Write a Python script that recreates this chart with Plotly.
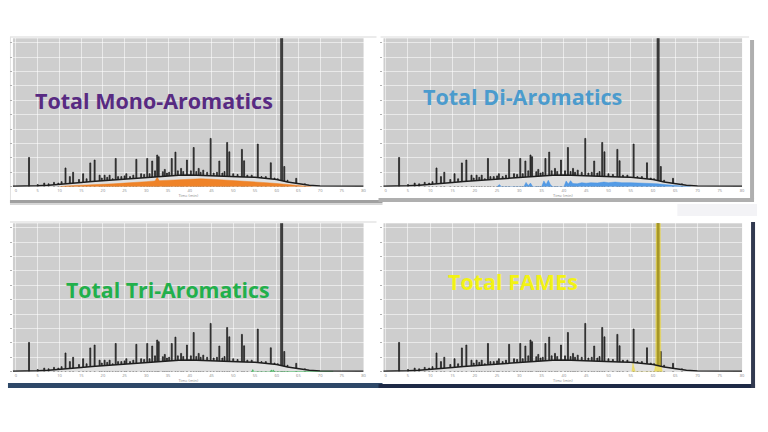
import plotly.graph_objects as go

# ---------------- data ----------------
PEAK_POS = [0.60, 1.00, 1.30, 1.50, 1.75, 1.95, 2.10, 2.28, 2.48, 2.63, 2.90, 3.09, 3.25,
            3.42, 3.62, 3.85, 3.95, 4.08, 4.20, 4.31, 4.45, 4.59, 4.70, 4.85, 5.00, 5.08,
            5.25, 5.40, 5.54, 5.76, 5.90, 6.04, 6.15, 6.27, 6.40, 6.50, 6.57, 6.76, 6.85,
            6.95, 7.05, 7.17, 7.34, 7.45, 7.60, 7.70, 7.87, 8.05, 8.18, 8.30, 8.41, 8.50,
            8.62, 8.80, 8.96, 9.10, 9.25, 9.36, 9.50, 9.60, 9.72, 9.82, 10.00, 10.20, 10.40,
            10.50, 10.65, 10.85, 11.13, 11.30, 11.50, 11.73, 11.90, 12.05, 12.23, 12.35,
            12.50, 12.90, 13.30]
PEAK_HEIGHT = [2.03, 0.15, 0.25, 0.20, 0.30, 0.25, 0.35, 1.30, 0.70, 1.00, 0.50, 0.90, 0.55,
               1.65, 1.85, 0.80, 0.60, 0.80, 0.65, 0.80, 0.55, 1.96, 0.70, 0.70, 0.75, 0.90,
               0.70, 0.80, 1.90, 0.90, 0.85, 1.96, 0.90, 1.78, 1.10, 2.20, 2.08, 1.04, 1.20,
               0.95, 1.00, 1.96, 2.40, 1.10, 1.27, 1.05, 1.85, 1.10, 2.72, 1.05, 1.27, 1.00,
               1.15, 1.00, 3.35, 0.95, 1.00, 1.78, 0.95, 1.05, 3.07, 2.42, 0.90, 0.85, 2.59,
               1.80, 0.80, 0.80, 2.96, 0.70, 0.70, 1.66, 0.60, 0.55, 11.0, 1.40,
               0.45, 0.58, 0.20]

HUMP_X = [-0.2, 0.5, 1.0, 1.5, 2.0, 2.5, 3.0, 3.5, 4.0, 4.5, 5.0, 5.5, 6.0, 6.5, 7.0, 7.5,
          8.0, 8.5, 9.0, 9.5, 10.0, 10.5, 11.0, 11.5, 12.0, 12.5, 13.0, 13.5, 14.0, 14.5,
          15.0, 16.0]
HUMP_Y = [0.03, 0.03, 0.06, 0.10, 0.15, 0.22, 0.30, 0.36, 0.42, 0.48, 0.52, 0.58, 0.64,
          0.72, 0.78, 0.80, 0.82, 0.80, 0.76, 0.74, 0.72, 0.68, 0.65, 0.60, 0.50, 0.32,
          0.20, 0.10, 0.05, 0.04, 0.03, 0.03]

MONO_X = [2.0, 2.3, 3.0, 3.5, 4.0, 4.5, 5.0, 5.5, 6.0, 6.4, 6.5, 6.6, 7.0, 7.3, 7.5, 8.0,
          8.5, 9.0, 9.5, 10.0, 10.5, 11.0, 11.5, 12.0, 12.5, 12.8, 13.2, 13.6]
MONO_Y = [0.0, 0.05, 0.10, 0.12, 0.15, 0.20, 0.25, 0.28, 0.35, 0.40, 0.65, 0.42, 0.45, 0.50,
          0.48, 0.55, 0.55, 0.52, 0.48, 0.42, 0.38, 0.32, 0.28, 0.22, 0.15, 0.10, 0.05, 0.0]

DI_X = [5.0, 5.1, 5.2, 6.2, 6.3, 6.4, 6.5, 6.6, 7.0, 7.1, 7.2, 7.3, 7.4, 7.5, 8.0, 8.1,
        8.2, 8.3, 8.4, 8.6, 8.8, 9.0, 9.2, 9.5, 9.8, 10.0, 10.3, 10.6, 11.0, 11.4, 11.8,
        12.2, 12.6, 13.0, 13.5, 13.7]
DI_Y = [0.0, 0.15, 0.0, 0.0, 0.30, 0.08, 0.25, 0.0, 0.0, 0.40, 0.15, 0.45, 0.12, 0.0, 0.0,
        0.40, 0.18, 0.42, 0.22, 0.20, 0.28, 0.24, 0.28, 0.26, 0.32, 0.28, 0.32, 0.28, 0.28,
        0.26, 0.24, 0.20, 0.14, 0.09, 0.03, 0.0]

TRI_X = [10.85, 10.90, 10.95, 11.70, 11.75, 11.80, 11.85, 11.90, 13.90, 14.60]
TRI_Y = [0.0, 0.15, 0.0, 0.0, 0.12, 0.05, 0.12, 0.0, 0.03, 0.03]

FAME_X = [11.05, 11.10, 11.15, 11.20, 12.06, 12.12, 12.14, 12.33, 12.35, 12.42]
FAME_Y = [0.0, 0.60, 0.30, 0.0, 0.0, 0.50, 11.0, 11.0, 0.50, 0.0]

X_TICKS = list(range(0, 17))
X_TICK_LABELS = [str(5 * i) for i in X_TICKS]
Y_TICKS = list(range(0, 11))

TITLES = ["Total Mono-Aromatics", "Total Di-Aromatics", "Total Tri-Aromatics", "Total FAMEs"]

# ---------------- layout helpers ----------------
W, H = 768, 432
def px_x(v): return v / W
def px_y(v): return 1 - v / H

BG = "rgb(206,206,206)"
HUMP_FILL = "rgb(224,224,224)"

panels = [
    (13, 365, 38.3, 186.7, -0.14),
    (385, 745, 38.3, 186.7, -0.10),
    (13, 365, 223.3, 371.7, -0.14),
    (385, 745, 223.3, 371.7, -0.10),
]

fig = go.Figure()
layout = dict(width=W, height=H, margin=dict(l=0, r=0, t=0, b=0),
              paper_bgcolor="white", showlegend=False, barmode="overlay")

widths = [0.09 if h > 5 else 0.045 for h in PEAK_HEIGHT]

colored = [
    (MONO_X, MONO_Y, "rgba(239,125,30,0.95)"),
    (DI_X, DI_Y, "rgba(58,142,230,0.85)"),
    (TRI_X, TRI_Y, "rgba(45,184,77,0.95)"),
    (FAME_X, FAME_Y, "rgba(240,215,30,0.6)"),
]

for i, (x0, x1, yt, yb, xl) in enumerate(panels):
    n = "" if i == 0 else str(i + 1)
    xa, ya = "x" + n, "y" + n
    fig.add_trace(go.Bar(x=PEAK_POS, y=PEAK_HEIGHT, width=widths, xaxis=xa, yaxis=ya,
                         marker=dict(color="rgb(70,70,70)", line=dict(color="rgb(20,20,20)", width=0.7)),
                         hoverinfo="skip"))
    fig.add_trace(go.Scatter(x=HUMP_X, y=HUMP_Y, mode="lines", fill="tozeroy",
                             fillcolor=HUMP_FILL, line=dict(width=0), xaxis=xa, yaxis=ya,
                             hoverinfo="skip"))
    cx, cy, cc = colored[i]
    fig.add_trace(go.Scatter(x=cx, y=cy, mode="lines", fill="tozeroy", fillcolor=cc,
                             line=dict(width=0.5, color=cc), xaxis=xa, yaxis=ya,
                             hoverinfo="skip"))
    fig.add_trace(go.Scatter(x=HUMP_X, y=HUMP_Y, mode="lines",
                             line=dict(color="rgb(30,30,30)", width=1.5), xaxis=xa, yaxis=ya,
                             hoverinfo="skip"))

    layout["xaxis" + n] = dict(domain=[px_x(x0), px_x(x1)], range=[xl, 16], anchor=ya,
                               tickvals=X_TICKS, ticktext=X_TICK_LABELS,
                               tickfont=dict(size=4, color="#8a8a8a"), ticks="",
                               showgrid=True, gridcolor="rgba(255,255,255,0.55)", gridwidth=1,
                               zeroline=False, showline=False,
                               title=dict(text="Time (min)", font=dict(size=4, color="#8a8a8a"),
                                          standoff=1))
    layout["yaxis" + n] = dict(domain=[px_y(yb), px_y(yt)], range=[0, 10.3], anchor=xa,
                               tickvals=Y_TICKS, ticktext=["" for _ in Y_TICKS],
                               ticks="outside", ticklen=2, tickcolor="#b0b0b0",
                               showgrid=True, gridcolor="rgba(255,255,255,0.55)", gridwidth=1,
                               zeroline=False, showline=False)

layout["plot_bgcolor"] = BG

label_specs = [
    (33, 100, "rgb(88,42,130)", 21.5),
    (423, 97, "rgb(75,155,205)", 21.5),
    (64, 289, "rgb(34,176,75)", 21.3),
    (448, 281, "rgb(242,242,20)", 21.5),
]
annotations = []
for (lx, ly, col, fs), txt in zip(label_specs, TITLES):
    annotations.append(dict(x=px_x(lx), y=px_y(ly), xref="paper", yref="paper",
                            xanchor="left", yanchor="middle", showarrow=False,
                            text="<b>" + txt + "</b>",
                            font=dict(family="Open Sans", size=fs, color=col)))
layout["annotations"] = annotations

def rect(x0, y0, x1, y1, color):
    return dict(type="rect", xref="paper", yref="paper", x0=px_x(x0), x1=px_x(x1),
                y0=px_y(y1), y1=px_y(y0), fillcolor=color, line=dict(width=0), layer="below")

shapes = [
    rect(10, 36.5, 378, 37.5, "rgb(215,215,215)"),
    rect(10, 37, 11, 200, "rgb(225,225,225)"),
    rect(10, 200, 384, 203, "rgb(160,160,160)"),
    rect(10, 203, 384, 205, "rgb(215,215,215)"),
    rect(382, 36.5, 752, 37.5, "rgb(220,220,220)"),
    rect(753, 40, 757, 199, "rgb(175,175,175)"),
    rect(380, 198, 757, 202, "rgb(175,175,175)"),
    rect(680, 204, 760, 216, "rgb(243,243,246)"),
    rect(10, 221.5, 378, 222.5, "rgb(215,215,215)"),
    rect(8, 383, 384, 388, "rgb(46,72,104)"),
    rect(380, 384, 758, 388, "rgb(30,42,70)"),
    rect(754, 222, 758, 388, "rgb(50,58,80)"),
]
layout["shapes"] = shapes

fig.update_layout(**layout)
fig.write_html("out.html")
